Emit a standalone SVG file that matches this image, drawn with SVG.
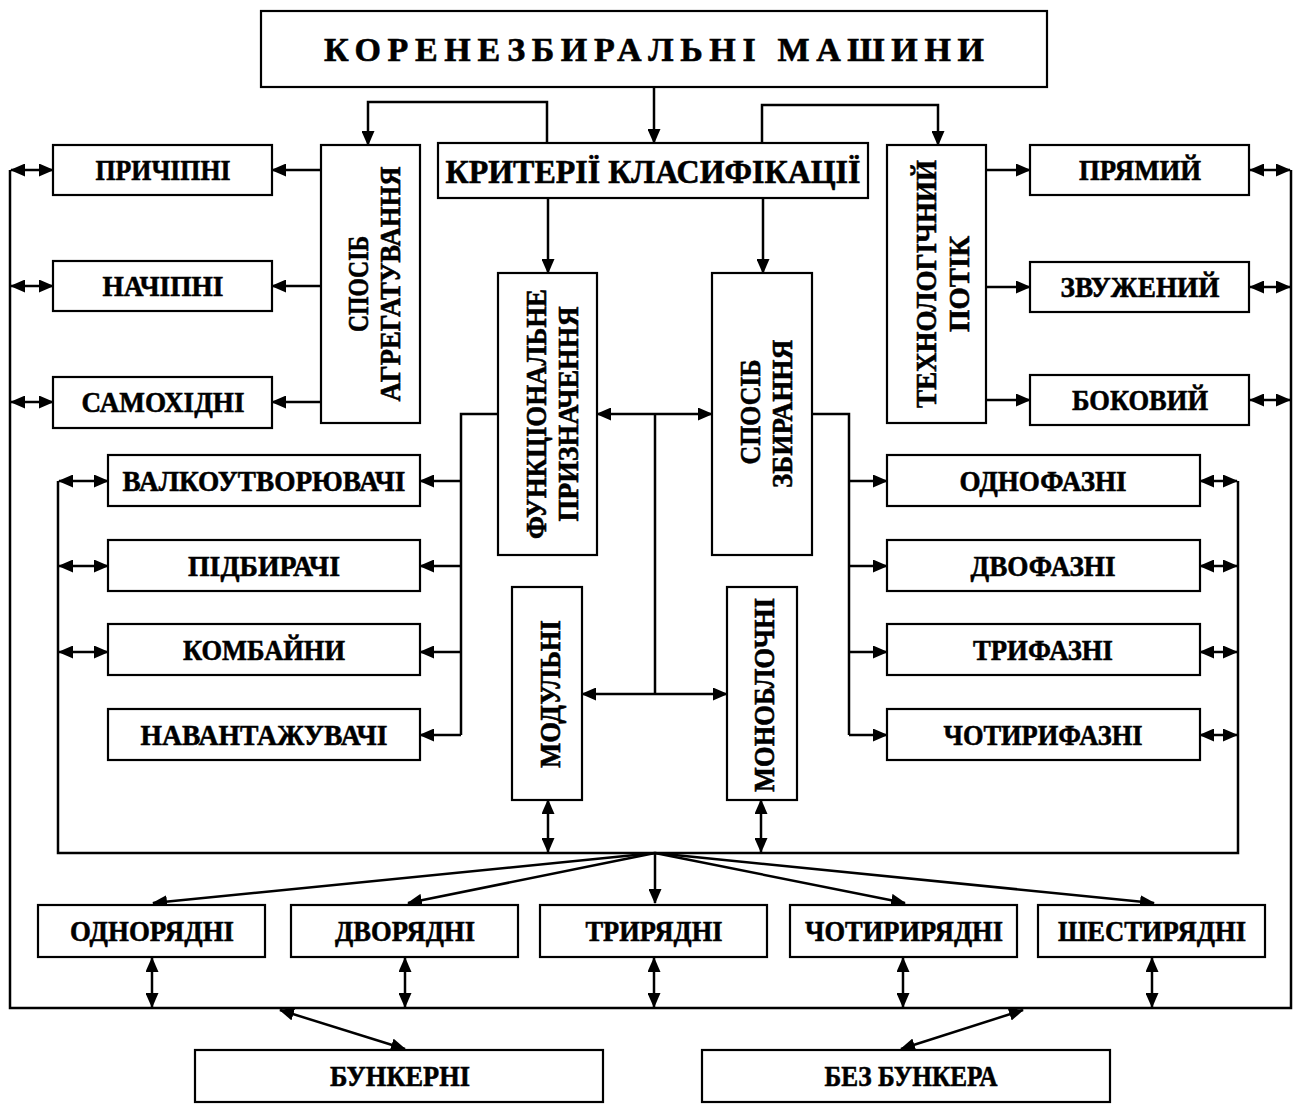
<svg xmlns="http://www.w3.org/2000/svg" width="1300" height="1113" viewBox="0 0 1300 1113">
<style>
.box{fill:#fff;stroke:#000;stroke-width:2.2}
.t{font-family:"Liberation Serif","Times New Roman",serif;font-weight:bold;font-size:30px;fill:#000;stroke:#000;stroke-width:0.6;text-anchor:middle}
.v{dominant-baseline:central}
.c{fill:none;stroke:#000;stroke-width:2.5}
.a{marker-end:url(#ah)}
.d{marker-start:url(#ah);marker-end:url(#ah)}
</style>
<defs>
<marker id="ah" markerUnits="userSpaceOnUse" markerWidth="15" markerHeight="13" refX="14" refY="6.5" orient="auto-start-reverse" viewBox="0 0 15 13">
<path d="M0,0 L15,6.5 L0,13 z" fill="#000"/>
</marker>
</defs>
<rect width="1300" height="1113" fill="#fff"/>

<g id="connectors">
<path class="c a" d="M654,87 V143"/>
<path class="c a" d="M547,143 V102 H368 V145"/>
<path class="c a" d="M762,143 V105 H938 V145"/>
<path class="c a" d="M548,198 V273"/>
<path class="c a" d="M763,198 V273"/>
<path class="c a" d="M321,170 H272"/>
<path class="c a" d="M321,286 H272"/>
<path class="c a" d="M321,402 H272"/>
<path class="c a" d="M986,170 H1030"/>
<path class="c a" d="M986,287 H1030"/>
<path class="c a" d="M986,400 H1030"/>
<path class="c" d="M10,170 V1008 H1291 V170"/>
<path class="c d" d="M11,170 H53"/>
<path class="c d" d="M11,286 H53"/>
<path class="c d" d="M11,402 H53"/>
<path class="c d" d="M1250,170 H1290"/>
<path class="c d" d="M1250,287 H1290"/>
<path class="c d" d="M1250,400 H1290"/>
<path class="c d" d="M597,414 H712"/>
<path class="c" d="M655,414 V694"/>
<path class="c d" d="M582,694 H727"/>
<path class="c" d="M498,414 H461 V735"/>
<path class="c a" d="M461,481 H420"/>
<path class="c a" d="M461,566 H420"/>
<path class="c a" d="M461,652 H420"/>
<path class="c a" d="M461,735 H420"/>
<path class="c" d="M812,414 H849 V735"/>
<path class="c a" d="M849,481 H887"/>
<path class="c a" d="M849,566 H887"/>
<path class="c a" d="M849,652 H887"/>
<path class="c a" d="M849,735 H887"/>
<path class="c" d="M58,481 V853 H1238 V481"/>
<path class="c d" d="M59,481 H108"/>
<path class="c d" d="M59,566 H108"/>
<path class="c d" d="M59,652 H108"/>
<path class="c d" d="M1200,481 H1237"/>
<path class="c d" d="M1200,566 H1237"/>
<path class="c d" d="M1200,652 H1237"/>
<path class="c d" d="M1200,735 H1237"/>
<path class="c d" d="M548,800 V852"/>
<path class="c d" d="M761,800 V852"/>
<path class="c a" d="M655,853 L153,903"/>
<path class="c a" d="M655,853 L408,903"/>
<path class="c a" d="M655,853 V903"/>
<path class="c a" d="M655,853 L905,903"/>
<path class="c a" d="M655,853 L1154,903"/>
<path class="c d" d="M152,958 V1007"/>
<path class="c d" d="M405,958 V1007"/>
<path class="c d" d="M654,958 V1007"/>
<path class="c d" d="M903,958 V1007"/>
<path class="c d" d="M1152,958 V1007"/>
<path class="c d" d="M280,1010 L405,1049"/>
<path class="c d" d="M1023,1010 L901,1049"/>
</g>

<g id="n-title"><rect class="box" x="261" y="11" width="786" height="76"/><text class="t" x="654" y="61" style="font-size:34px" textLength="660" lengthAdjust="spacing">КОРЕНЕЗБИРАЛЬНІ МАШИНИ</text></g>
<g id="n-criteria"><rect class="box" x="438" y="143" width="430" height="55"/><text class="t" x="653" y="183" style="font-size:33px" textLength="415" lengthAdjust="spacingAndGlyphs">КРИТЕРІЇ КЛАСИФІКАЦІЇ</text></g>
<g id="n-agr"><rect class="box" x="321" y="145" width="99" height="278"/>
<text class="t v" transform="translate(357,284) rotate(-90)" textLength="96" lengthAdjust="spacingAndGlyphs">СПОСІБ</text>
<text class="t v" transform="translate(389,284) rotate(-90)" textLength="235" lengthAdjust="spacingAndGlyphs">АГРЕГАТУВАННЯ</text></g>
<g id="n-tech"><rect class="box" x="887" y="145" width="99" height="278"/>
<text class="t v" transform="translate(925,284) rotate(-90)" textLength="248" lengthAdjust="spacingAndGlyphs">ТЕХНОЛОГІЧНИЙ</text>
<text class="t v" transform="translate(958,284) rotate(-90)" textLength="96" lengthAdjust="spacingAndGlyphs">ПОТІК</text></g>
<g id="n-prychipni"><rect class="box" x="53" y="145" width="219" height="50"/><text class="t" x="163" y="180" textLength="135" lengthAdjust="spacingAndGlyphs">ПРИЧІПНІ</text></g>
<g id="n-nachipni"><rect class="box" x="53" y="261" width="219" height="50"/><text class="t" x="163" y="296" textLength="121" lengthAdjust="spacingAndGlyphs">НАЧІПНІ</text></g>
<g id="n-samokhidni"><rect class="box" x="53" y="377" width="219" height="51"/><text class="t" x="163" y="412" textLength="163" lengthAdjust="spacingAndGlyphs">САМОХІДНІ</text></g>
<g id="n-pryamyi"><rect class="box" x="1030" y="145" width="219" height="50"/><text class="t" x="1140" y="180" textLength="122" lengthAdjust="spacingAndGlyphs">ПРЯМИЙ</text></g>
<g id="n-zvuzhenyi"><rect class="box" x="1030" y="262" width="219" height="50"/><text class="t" x="1140" y="297" textLength="159" lengthAdjust="spacingAndGlyphs">ЗВУЖЕНИЙ</text></g>
<g id="n-bokovyi"><rect class="box" x="1030" y="375" width="219" height="50"/><text class="t" x="1140" y="410" textLength="136" lengthAdjust="spacingAndGlyphs">БОКОВИЙ</text></g>
<g id="n-funk"><rect class="box" x="498" y="273" width="99" height="282"/>
<text class="t v" transform="translate(535,414) rotate(-90)" textLength="250" lengthAdjust="spacingAndGlyphs">ФУНКЦІОНАЛЬНЕ</text>
<text class="t v" transform="translate(567,414) rotate(-90)" textLength="215" lengthAdjust="spacingAndGlyphs">ПРИЗНАЧЕННЯ</text></g>
<g id="n-zbyr"><rect class="box" x="712" y="273" width="100" height="282"/>
<text class="t v" transform="translate(749,412) rotate(-90)" textLength="105" lengthAdjust="spacingAndGlyphs">СПОСІБ</text>
<text class="t v" transform="translate(781,414) rotate(-90)" textLength="148" lengthAdjust="spacingAndGlyphs">ЗБИРАННЯ</text></g>
<g id="n-valko"><rect class="box" x="108" y="455" width="312" height="51"/><text class="t" x="264" y="491" textLength="283" lengthAdjust="spacingAndGlyphs">ВАЛКОУТВОРЮВАЧІ</text></g>
<g id="n-pidbyr"><rect class="box" x="108" y="540" width="312" height="51"/><text class="t" x="264" y="576" textLength="152" lengthAdjust="spacingAndGlyphs">ПІДБИРАЧІ</text></g>
<g id="n-kombainy"><rect class="box" x="108" y="624" width="312" height="51"/><text class="t" x="264" y="660" textLength="162" lengthAdjust="spacingAndGlyphs">КОМБАЙНИ</text></g>
<g id="n-navant"><rect class="box" x="108" y="709" width="312" height="51"/><text class="t" x="264" y="745" textLength="247" lengthAdjust="spacingAndGlyphs">НАВАНТАЖУВАЧІ</text></g>
<g id="n-odnofaz"><rect class="box" x="887" y="455" width="313" height="51"/><text class="t" x="1043" y="491" textLength="167" lengthAdjust="spacingAndGlyphs">ОДНОФАЗНІ</text></g>
<g id="n-dvofaz"><rect class="box" x="887" y="540" width="313" height="51"/><text class="t" x="1043" y="576" textLength="145" lengthAdjust="spacingAndGlyphs">ДВОФАЗНІ</text></g>
<g id="n-tryfaz"><rect class="box" x="887" y="624" width="313" height="51"/><text class="t" x="1043" y="660" textLength="140" lengthAdjust="spacingAndGlyphs">ТРИФАЗНІ</text></g>
<g id="n-chotyryfaz"><rect class="box" x="887" y="709" width="313" height="51"/><text class="t" x="1043" y="745" textLength="199" lengthAdjust="spacingAndGlyphs">ЧОТИРИФАЗНІ</text></g>
<g id="n-modul"><rect class="box" x="512" y="587" width="70" height="213"/><text class="t v" transform="translate(549,694) rotate(-90)" textLength="148" lengthAdjust="spacingAndGlyphs">МОДУЛЬНІ</text></g>
<g id="n-monobl"><rect class="box" x="727" y="587" width="70" height="213"/><text class="t v" transform="translate(763,695) rotate(-90)" textLength="194" lengthAdjust="spacingAndGlyphs">МОНОБЛОЧНІ</text></g>
<g id="n-odnor"><rect class="box" x="38" y="905" width="227" height="52"/><text class="t" x="152" y="941" textLength="164" lengthAdjust="spacingAndGlyphs">ОДНОРЯДНІ</text></g>
<g id="n-dvor"><rect class="box" x="291" y="905" width="227" height="52"/><text class="t" x="405" y="941" textLength="140" lengthAdjust="spacingAndGlyphs">ДВОРЯДНІ</text></g>
<g id="n-tryr"><rect class="box" x="540" y="905" width="227" height="52"/><text class="t" x="654" y="941" textLength="137" lengthAdjust="spacingAndGlyphs">ТРИРЯДНІ</text></g>
<g id="n-chotyryr"><rect class="box" x="790" y="905" width="227" height="52"/><text class="t" x="904" y="941" textLength="198" lengthAdjust="spacingAndGlyphs">ЧОТИРИРЯДНІ</text></g>
<g id="n-shestyr"><rect class="box" x="1038" y="905" width="227" height="52"/><text class="t" x="1152" y="941" textLength="188" lengthAdjust="spacingAndGlyphs">ШЕСТИРЯДНІ</text></g>
<g id="n-bunk"><rect class="box" x="195" y="1050" width="408" height="52"/><text class="t" x="400" y="1086" textLength="140" lengthAdjust="spacingAndGlyphs">БУНКЕРНІ</text></g>
<g id="n-bezbunk"><rect class="box" x="702" y="1050" width="408" height="52"/><text class="t" x="911" y="1086" textLength="173" lengthAdjust="spacingAndGlyphs">БЕЗ БУНКЕРА</text></g>
</svg>
